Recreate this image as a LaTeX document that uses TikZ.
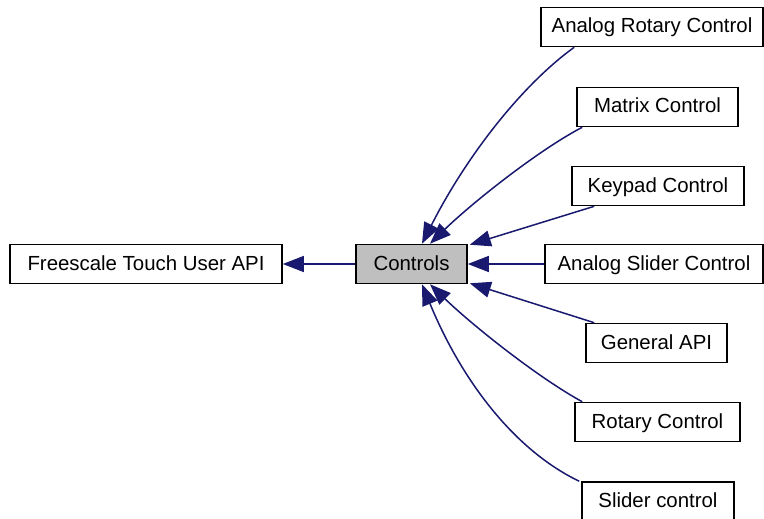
\documentclass[tikz,border=0pt]{standalone}
\usepackage{fontspec}
\setmainfont{Liberation Sans}
\usetikzlibrary{arrows.meta}
\definecolor{edgec}{HTML}{191970}
\definecolor{grayc}{HTML}{BFBFBF}
\begin{document}
\begin{tikzpicture}[x=1pt,y=-1pt,
  box/.style={draw=black, line width=1.6pt, fill=white, inner sep=0pt,
    minimum height=39pt, text height=16pt, text depth=4pt,
    font=\fontsize{20.4}{24}\selectfont},
  edge/.style={draw=edgec, line width=1.5pt,
    {Triangle[length=21pt,width=16pt]}-}]
\useasboundingbox (0,0) rectangle (764,519);
\fill[white] (0,0) rectangle (764,519);
\node[box, minimum width=272pt] (fta) at (146,264) {Freescale Touch User API};
\node[box, minimum width=111pt, fill=grayc] (ctrl) at (411.5,264) {Controls};
\node[box, minimum width=222pt] (arc) at (652,27) {Analog Rotary Control};
\node[box, minimum width=161pt] (mat) at (657.5,107) {Matrix Control};
\node[box, minimum width=172pt] (key) at (658,186) {Keypad Control};
\node[box, minimum width=218pt] (asl) at (654,264) {Analog Slider Control};
\node[box, minimum width=141pt] (gen) at (656.5,343) {General API};
\node[box, minimum width=165pt] (rot) at (657.5,422) {Rotary Control};
\node[box, minimum width=152pt] (sld) at (658,501.5) {Slider control};

\draw[edge] (fta.east) -- (ctrl.west);
\draw[edge] (ctrl.east) -- (asl.west);
\draw[edge] ([xshift=10.5pt]ctrl.north) .. controls (466.7,155.6) and (522.3,84.7) .. ([xshift=34pt]arc.south west);
\draw[edge] ([xshift=18.5pt]ctrl.north) .. controls (472.4,202.6) and (538.6,150) .. ([xshift=6pt]mat.south west);
\draw[edge] ([xshift=2pt,yshift=-1pt]ctrl.north east) -- ([xshift=23pt]key.south west);
\draw[edge] ([xshift=2pt,yshift=1pt]ctrl.south east) -- ([xshift=9pt]gen.north west);
\draw[edge] ([xshift=18.5pt]ctrl.south) .. controls (472.4,325.4) and (538.6,378) .. ([xshift=8pt]rot.north west);
\draw[edge] ([xshift=10.5pt]ctrl.south) .. controls (463.5,384.9) and (517.4,451.7) .. ([xshift=-2pt]sld.north west);
\end{tikzpicture}
\end{document}
